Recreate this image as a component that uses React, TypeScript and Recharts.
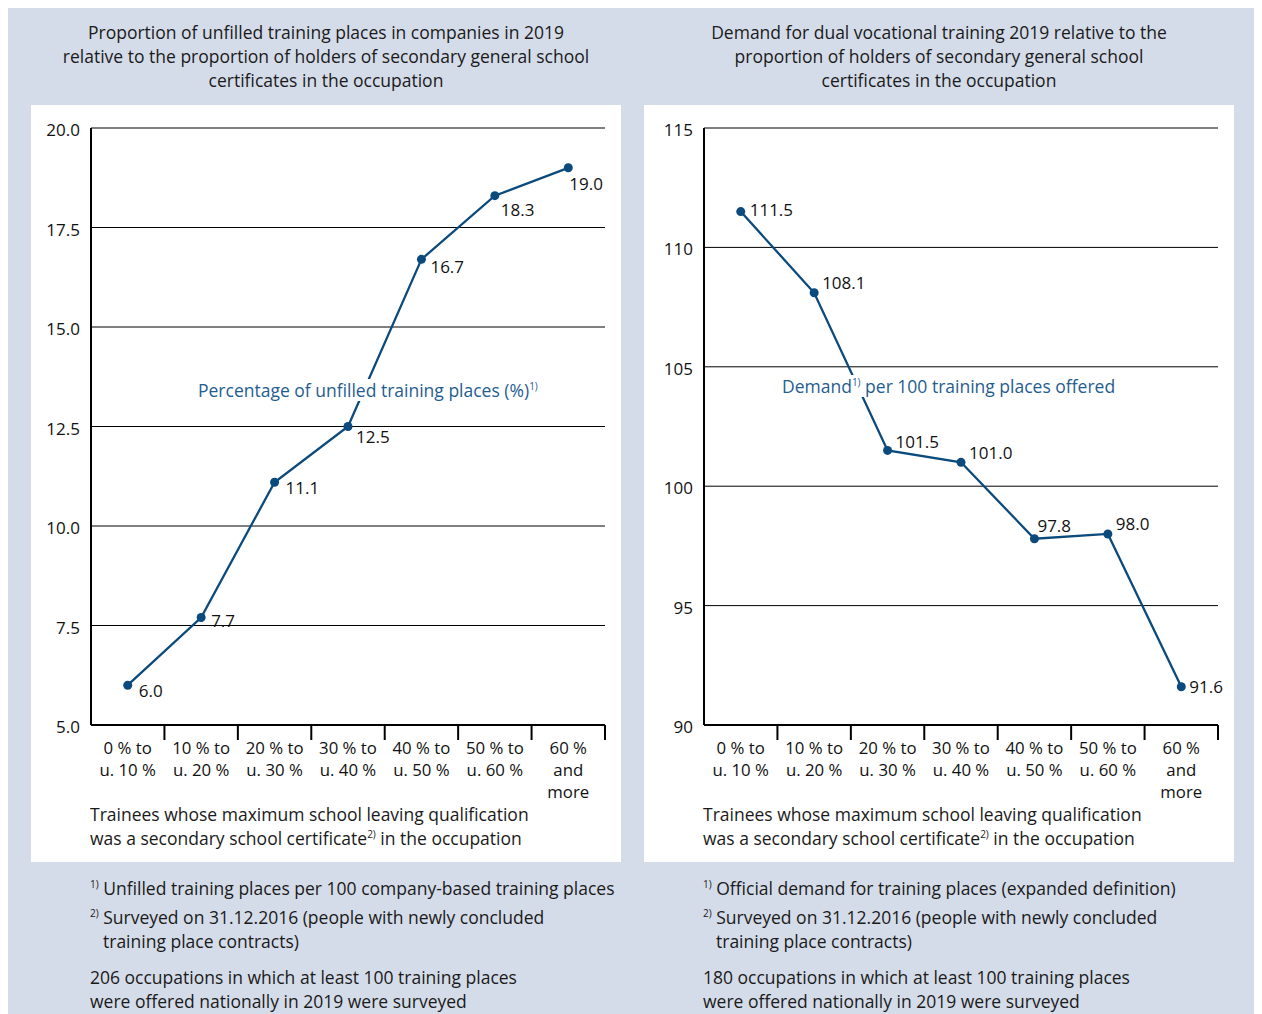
import React from "react";
import {
  LineChart,
  Line,
  XAxis,
  YAxis,
  CartesianGrid,
  LabelList,
} from "recharts";

const categories = [
  ["0 % to", "u. 10 %"],
  ["10 % to", "u. 20 %"],
  ["20 % to", "u. 30 %"],
  ["30 % to", "u. 40 %"],
  ["40 % to", "u. 50 %"],
  ["50 % to", "u. 60 %"],
  ["60 %", "and", "more"],
];

const unfilledShare = [6.0, 7.7, 11.1, 12.5, 16.7, 18.3, 19.0];
const demand = [111.5, 108.1, 101.5, 101.0, 97.8, 98.0, 91.6];

const unfilledTicks = [5, 7.5, 10, 12.5, 15, 17.5, 20];
const demandTicks = [90, 95, 100, 105, 110, 115];

// label offsets from the point (text start, vertical centre)
const unfilledLabelOffsets = [
  [11, 5],
  [10, 3],
  [11, 5],
  [8, 10],
  [9, 7],
  [6, 14],
  [1, 16],
];
const demandLabelOffsets = [
  [9, -2],
  [8, -10],
  [8, -9],
  [8, -10],
  [3, -13],
  [8, -10],
  [8, 0],
];

const FONT = "'Open Sans', 'DejaVu Sans', sans-serif";
const TEXT_SIZE = 17.5;
const LINE = "#0b4a7c";
const SERIES_TEXT = "#1f5d8f";
const BG = "#d5dce9";

// ticks at category centres (x.5) carry labels, whole numbers are boundary marks
const xTicks = [0.5, 1, 1.5, 2, 2.5, 3, 3.5, 4, 4.5, 5, 5.5, 6, 6.5, 7];

const buildRows = (values: number[]) =>
  values.map((v, i) => ({ pos: i + 0.5, value: v }));

const XTick = (props: any) => {
  const { x, y, payload } = props;
  const v = payload.value as number;
  if (Number.isInteger(v)) {
    return <line x1={x} x2={x} y1={y} y2={y + 15} stroke="#000" strokeWidth={2} />;
  }
  const lines = categories[Math.floor(v)];
  return (
    <text x={x} y={y + 29} textAnchor="middle" fill="#111" fontSize={16.8} fontFamily={FONT}>
      {lines.map((l, i) => (
        <tspan key={i} x={x} dy={i === 0 ? 0 : 22}>
          {l}
        </tspan>
      ))}
    </text>
  );
};

const makeLabel = (offsets: number[][]) => (props: any) => {
  const { x, y, value, index } = props;
  const [dx, dy] = offsets[index];
  return (
    <text
      x={x + dx}
      y={y + dy}
      dominantBaseline="central"
      fill="#111"
      fontSize={17}
      fontFamily={FONT}
    >
      {Number(value).toFixed(1)}
    </text>
  );
};

type PanelProps = {
  left: number;
  title: string[];
  values: number[];
  ticks: number[];
  domain: [number, number];
  decimals: number;
  offsets: number[][];
  seriesLabel: React.ReactNode;
  seriesLabelPos: { left: number; top: number };
  footnotes: React.ReactNode;
};

const Sup = ({ children }: { children: React.ReactNode }) => (
  <sup style={{ fontSize: 10, lineHeight: 0, verticalAlign: 7 }}>{children}</sup>
);

function Panel(p: PanelProps) {
  return (
    <>
      <div
        style={{
          position: "absolute",
          left: p.left,
          top: 12,
          width: 590,
          textAlign: "center",
          fontSize: TEXT_SIZE,
          lineHeight: "24px",
          color: "#1a1a1a",
        }}
      >
        {p.title.map((t, i) => (
          <div key={i}>{t}</div>
        ))}
      </div>
      <div
        style={{
          position: "absolute",
          left: p.left,
          top: 97,
          width: 590,
          height: 757,
          background: "#fff",
        }}
      >
        <LineChart
          width={590}
          height={757}
          data={buildRows(p.values)}
          margin={{ top: 23, right: 16, left: 0, bottom: 0 }}
        >
          <CartesianGrid vertical={false} stroke="#000" strokeWidth={1} />
          <XAxis
            dataKey="pos"
            type="number"
            domain={[0, 7]}
            ticks={xTicks}
            interval={0}
            height={137}
            tickSize={0}
            tickMargin={0}
            tickLine={false}
            axisLine={{ stroke: "#000", strokeWidth: 2 }}
            tick={<XTick />}
          />
          <YAxis
            type="number"
            domain={p.domain}
            ticks={p.ticks}
            interval={0}
            width={60}
            tickSize={0}
            tickMargin={11}
            tickLine={false}
            axisLine={{ stroke: "#000", strokeWidth: 2 }}
            tickFormatter={(v: number) => v.toFixed(p.decimals)}
            tick={{ fill: "#111", fontSize: 17, fontFamily: FONT, dy: 2 }}
          />
          <Line
            dataKey="value"
            stroke={LINE}
            strokeWidth={2.3}
            dot={{ r: 4.5, fill: LINE, stroke: LINE, strokeWidth: 0 }}
            isAnimationActive={false}
          >
            <LabelList dataKey="value" content={makeLabel(p.offsets)} />
          </Line>
        </LineChart>
        <div
          style={{
            position: "absolute",
            left: p.seriesLabelPos.left,
            top: p.seriesLabelPos.top,
            background: "#fff",
            padding: "0 2px",
            color: SERIES_TEXT,
            fontSize: TEXT_SIZE,
            lineHeight: "22px",
            whiteSpace: "nowrap",
          }}
        >
          {p.seriesLabel}
        </div>
        <div
          style={{
            position: "absolute",
            left: 59,
            top: 697,
            fontSize: TEXT_SIZE,
            lineHeight: "24px",
            color: "#1a1a1a",
          }}
        >
          <div>Trainees whose maximum school leaving qualification</div>
          <div>
            was a secondary school certificate<Sup>2)</Sup> in the occupation
          </div>
        </div>
      </div>
      <div
        style={{
          position: "absolute",
          left: p.left + 59,
          top: 868,
          fontSize: TEXT_SIZE,
          lineHeight: "24px",
          color: "#1a1a1a",
        }}
      >
        {p.footnotes}
      </div>
    </>
  );
}

const Footnotes = ({ first, count }: { first: string; count: number }) => (
  <>
    <div>
      <Sup>1)</Sup> {first}
    </div>
    <div style={{ marginTop: 5 }}>
      <Sup>2)</Sup> Surveyed on 31.12.2016 (people with newly concluded
    </div>
    <div style={{ paddingLeft: 13 }}>training place contracts)</div>
    <div style={{ marginTop: 12 }}>
      {count} occupations in which at least 100 training places
    </div>
    <div>were offered nationally in 2019 were surveyed</div>
  </>
);

export default function App() {
  return (
    <div
      style={{
        position: "relative",
        width: 1248,
        height: 1010,
        background: BG,
        fontFamily: FONT,
        overflow: "hidden",
      }}
    >
      <Panel
        left={23}
        title={[
          "Proportion of unfilled training places in companies in 2019",
          "relative to the proportion of holders of secondary general school",
          "certificates in the occupation",
        ]}
        values={unfilledShare}
        ticks={unfilledTicks}
        domain={[5, 20]}
        decimals={1}
        offsets={unfilledLabelOffsets}
        seriesLabel={
          <>
            Percentage of unfilled training places (%)<Sup>1)</Sup>
          </>
        }
        seriesLabelPos={{ left: 165, top: 274 }}
        footnotes={
          <Footnotes
            first="Unfilled training places per 100 company-based training places"
            count={206}
          />
        }
      />
      <Panel
        left={636}
        title={[
          "Demand for dual vocational training 2019 relative to the",
          "proportion of holders of secondary general school",
          "certificates in the occupation",
        ]}
        values={demand}
        ticks={demandTicks}
        domain={[90, 115]}
        decimals={0}
        offsets={demandLabelOffsets}
        seriesLabel={
          <>
            Demand<Sup>1)</Sup> per 100 training places offered
          </>
        }
        seriesLabelPos={{ left: 136, top: 270 }}
        footnotes={
          <Footnotes
            first="Official demand for training places (expanded definition)"
            count={180}
          />
        }
      />
    </div>
  );
}
